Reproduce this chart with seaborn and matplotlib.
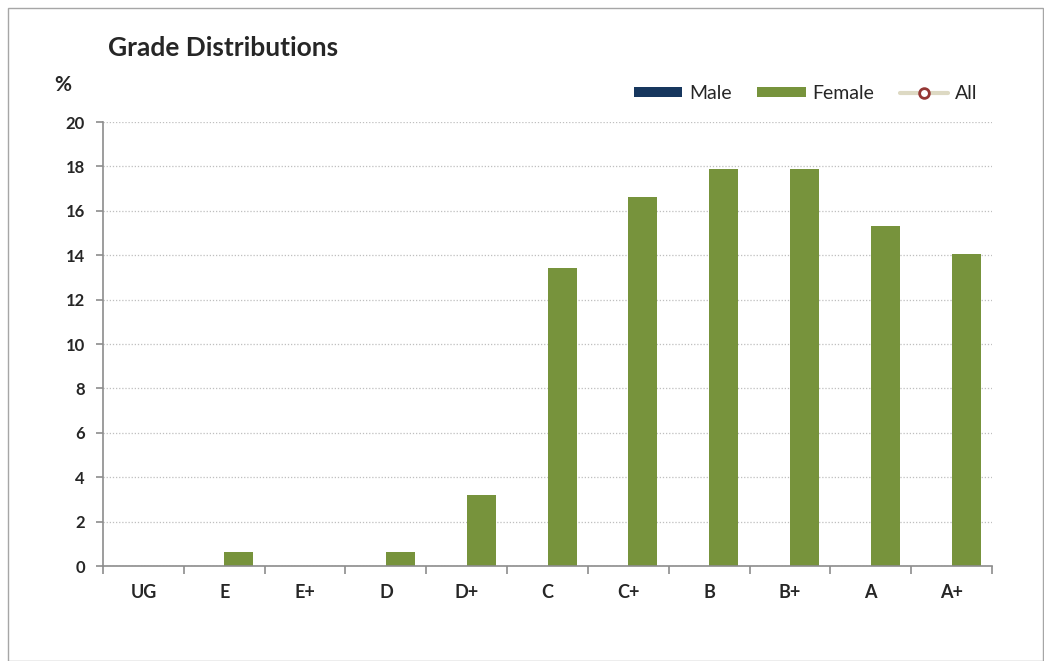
import pandas as pd
import matplotlib.pyplot as plt
import seaborn as sns
from matplotlib.lines import Line2D
from matplotlib.patches import Patch, Rectangle
from matplotlib.ticker import FixedLocator

# Data
grades = ["UG", "E", "E+", "D", "D+", "C", "C+", "B", "B+", "A", "A+"]
male = [0, 0, 0, 0, 0, 0, 0, 0, 0, 0, 0]
female = [0, 0.63, 0, 0.63, 3.2, 13.42, 16.62, 17.88, 17.88, 15.32, 14.05]

df = pd.DataFrame({
    "grade": grades * 2,
    "pct": male + female,
    "series": ["Male"] * len(grades) + ["Female"] * len(grades),
})

sns.set_style("white")
plt.rcParams['font.family'] = ['Lato', 'DejaVu Sans']

fig = plt.figure(figsize=(10.44, 6.61), dpi=100)
ax = fig.add_axes([0.0987, 0.1437, 0.8515, 0.6717])

sns.barplot(data=df, x="grade", y="pct", hue="series", order=grades,
            hue_order=["Male", "Female"],
            palette={"Male": "#17375E", "Female": "#77933C"}, saturation=1,
            width=0.72, linewidth=0, errorbar=None, ax=ax, legend=False)

ax.set_xlim(-0.5, len(grades) - 0.5)
ax.set_ylim(0, 20)
ax.set_yticks(range(0, 21, 2))
ax.yaxis.grid(True, linestyle=(0, (1, 1.5)), color="#BFBFBF", linewidth=0.9)
ax.set_axisbelow(True)

for s in ["top", "right"]:
    ax.spines[s].set_visible(False)
for s in ["left", "bottom"]:
    ax.spines[s].set_color("#8C8C8C")
    ax.spines[s].set_linewidth(1.2)

ax.tick_params(axis="y", which="major", length=5, width=1.2, color="#8C8C8C",
               labelsize=12, pad=8, left=True)
ax.tick_params(axis="x", which="major", length=0, labelsize=13, pad=13)
ax.xaxis.set_minor_locator(FixedLocator([i - 0.5 for i in range(len(grades) + 1)]))
ax.tick_params(axis="x", which="minor", length=6, width=1.2, color="#8C8C8C",
               bottom=True)
for lab in ax.get_xticklabels() + ax.get_yticklabels():
    lab.set_fontweight("bold")
ax.set_xlabel("")
ax.set_ylabel("")

fig.text(0.1035, 0.927, "Grade Distributions", fontsize=19, fontweight="bold",
         va="center", ha="left")
fig.text(0.052, 0.871, "%", fontsize=15, fontweight="bold", va="center", ha="left")

handles = [
    Patch(facecolor="#17375E", edgecolor="none", label="Male"),
    Patch(facecolor="#77933C", edgecolor="none", label="Female"),
    Line2D([0], [0], color="#DDD9C3", linewidth=3, marker="o", markersize=7,
           markerfacecolor="white", markeredgecolor="#953735",
           markeredgewidth=2, label="All"),
]
fig.legend(handles=handles, loc="center right", bbox_to_anchor=(0.953, 0.859),
           ncol=3, frameon=False, fontsize=14, handlelength=2.5,
           handleheight=0.4, columnspacing=1.3, handletextpad=0.35)

fig.add_artist(Rectangle((0.008, 0.0), 0.991, 0.988, transform=fig.transFigure,
                         fill=False, edgecolor="#A6A6A6", linewidth=1))

fig.savefig("out.png", dpi=100)
